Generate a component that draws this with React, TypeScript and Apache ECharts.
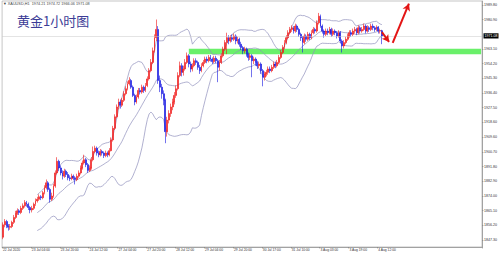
import React, { useEffect, useRef } from 'react';
import * as echarts from 'echarts';

// ---- data (XAUUSD, H1) ----
const tickLabels = [
  '22 Jul 2020', '23 Jul 04:00', '23 Jul 20:00', '24 Jul 12:00', '27 Jul 04:00',
  '27 Jul 20:00', '28 Jul 12:00', '29 Jul 04:00', '29 Jul 20:00', '30 Jul 17:00',
  '31 Jul 10:00', '3 Aug 03:00', '3 Aug 19:00', '4 Aug 12:00',
];
const barsPerTick = 16;
const totalSlots = 266;

const priceTicks = [
  1847.3, 1856.2, 1865.1, 1874.0, 1882.9, 1891.8, 1900.7, 1909.6, 1918.6,
  1927.5, 1936.4, 1945.3, 1954.2, 1963.1, 1980.9, 1989.8,
];

const firstOpen = 1849;
const closes = [
  1856.5, 1858.5, 1856, 1855, 1855.5, 1858, 1861, 1863.5, 1865, 1864,
  1866.5, 1868, 1870, 1869, 1867, 1865.5, 1866.5, 1869, 1871, 1872,
  1873.5, 1873, 1876, 1879, 1882, 1878, 1872, 1874, 1880, 1888,
  1895, 1891, 1888, 1886, 1889, 1887, 1885, 1884.5, 1886, 1885,
  1884, 1886, 1888, 1891, 1894, 1896, 1893, 1889.5, 1891, 1896,
  1901, 1903, 1900, 1899, 1901, 1900, 1898.5, 1900, 1899, 1901.5,
  1908, 1915, 1922, 1928, 1931, 1929, 1932, 1936, 1939, 1942,
  1944, 1940, 1935, 1931, 1934, 1938, 1937, 1940, 1938, 1941,
  1945, 1950, 1955, 1962, 1970, 1975, 1944, 1940, 1936, 1932,
  1913, 1920, 1924, 1928, 1931, 1935, 1939, 1947, 1953, 1949,
  1951, 1955, 1959, 1954, 1951, 1953, 1956, 1955, 1952, 1950,
  1953, 1955, 1957, 1956, 1958, 1957, 1955.5, 1957.5, 1956, 1952,
  1955, 1959, 1963, 1967, 1970, 1968, 1970, 1969, 1971, 1968,
  1969, 1966, 1964, 1962, 1963, 1960, 1958, 1959, 1956, 1957,
  1955, 1953, 1954, 1950, 1946, 1948, 1949, 1951, 1950, 1952,
  1954, 1953, 1955, 1958, 1961, 1964, 1967, 1970, 1973, 1975,
  1976, 1974, 1977, 1975, 1972, 1970, 1967, 1971, 1969, 1972,
  1970, 1973, 1975, 1974, 1979, 1983, 1977, 1974, 1972, 1974,
  1973, 1975, 1972, 1974, 1973, 1971, 1973, 1968, 1965, 1967,
  1969, 1971, 1973, 1972, 1974, 1975, 1973, 1976, 1974, 1975,
  1977, 1974, 1976, 1975, 1977, 1976, 1975, 1976.5, 1974, 1974.21,
  1971.08,
];
const highs = [
  1858, 1860, 1859.5, 1857, 1857, 1859, 1862.5, 1865, 1866.5, 1866,
  1868, 1869.5, 1871.5, 1871, 1870, 1868, 1868, 1870, 1872.5, 1873.5,
  1875, 1874.5, 1877, 1880.5, 1884, 1883, 1879, 1876, 1881.5, 1889.5,
  1897.5, 1896, 1892.5, 1889.5, 1890.5, 1890, 1888.5, 1886.5, 1887.5, 1887,
  1886, 1887.5, 1889.5, 1892.5, 1895.5, 1899, 1897, 1894, 1892.5, 1897.5,
  1904, 1904.5, 1904, 1901.5, 1902.5, 1902, 1901, 1901.5, 1901, 1903,
  1909.5, 1916.5, 1923.5, 1929.5, 1933, 1932.5, 1933.5, 1937.5, 1940.5, 1943.5,
  1946, 1945, 1941, 1936, 1935.5, 1939.5, 1939.5, 1941.5, 1941, 1942.5,
  1946.5, 1951.5, 1957, 1964, 1972, 1981, 1977, 1947, 1942, 1938,
  1933, 1922, 1926, 1930, 1933, 1937, 1941, 1949, 1955.5, 1954.5,
  1953, 1957, 1961, 1960, 1955.5, 1954.5, 1957.5, 1957.5, 1956, 1953.5,
  1954.5, 1956.5, 1958.5, 1958.5, 1959.5, 1959.5, 1958, 1959, 1959, 1957,
  1956.5, 1960.5, 1964.5, 1968.5, 1973, 1971.5, 1971.5, 1972, 1972.5, 1972,
  1970.5, 1970, 1967.5, 1965, 1964.5, 1964, 1961, 1960.5, 1960, 1958.5,
  1958, 1956, 1955.5, 1955, 1951, 1949.5, 1950.5, 1952.5, 1952.5, 1953.5,
  1955.5, 1955.5, 1956.5, 1959.5, 1962.5, 1965.5, 1968.5, 1971.5, 1974.5, 1976.5,
  1977.5, 1977, 1978.5, 1978, 1976, 1973, 1971, 1972.5, 1972, 1973.5,
  1973, 1974.5, 1976.5, 1976, 1980.5, 1985, 1984, 1978, 1975, 1975.5,
  1975.5, 1976.5, 1976, 1975.5, 1975, 1974, 1974.5, 1974, 1969, 1968.5,
  1970.5, 1972.5, 1974.5, 1974.5, 1975.5, 1976.5, 1976, 1977.5, 1977, 1976.5,
  1978.5, 1978, 1977.5, 1977, 1978.5, 1978.5, 1977, 1977.5, 1977, 1975.5,
  1974.72,
];
const lows = [
  1847.8, 1855, 1854.5, 1853, 1853.5, 1854.5, 1857, 1860, 1862.5, 1862.5,
  1863, 1865.5, 1867, 1867.5, 1865.5, 1863.5, 1864, 1865.5, 1868, 1870,
  1871, 1871.5, 1872, 1875, 1878, 1876.5, 1870, 1871, 1873, 1879,
  1887, 1889, 1886.5, 1884, 1885, 1885.5, 1883.5, 1883, 1883.5, 1883.5,
  1881, 1883, 1885, 1887, 1890, 1893, 1891.5, 1888, 1888.5, 1890,
  1895, 1900, 1898.5, 1897.5, 1898, 1898.5, 1897, 1897.5, 1897.5, 1898,
  1901, 1907, 1914, 1921, 1926.5, 1927, 1928, 1931, 1935, 1938,
  1941, 1939, 1934, 1929, 1930, 1933, 1935.5, 1936, 1936.5, 1937,
  1940, 1944, 1949, 1954, 1961, 1968, 1942, 1937, 1933, 1929,
  1906, 1910, 1918, 1922, 1926, 1929.5, 1933.5, 1938, 1946, 1946.5,
  1947, 1950, 1954, 1952, 1949, 1949.5, 1952, 1953.5, 1950.5, 1948,
  1949, 1952, 1954, 1954.5, 1955, 1955.5, 1954, 1954.5, 1954.5, 1943,
  1950, 1954, 1958, 1962, 1960, 1966, 1967, 1967.5, 1968, 1966,
  1966.5, 1964.5, 1962.5, 1960, 1960.5, 1958.5, 1956, 1956.5, 1946, 1954,
  1953, 1951, 1951.5, 1948, 1940.5, 1944, 1946.5, 1947.5, 1948.5, 1949,
  1951, 1951.5, 1952, 1954, 1957, 1960, 1963, 1966, 1969, 1972,
  1973.5, 1972.5, 1973, 1973.5, 1970.5, 1968, 1961, 1966, 1967.5, 1968,
  1968.5, 1969, 1972, 1972.5, 1973, 1978, 1976, 1972.5, 1970, 1971,
  1971.5, 1972, 1970.5, 1971, 1971.5, 1969.5, 1970, 1966.5, 1961, 1963.5,
  1966, 1968, 1970, 1970.5, 1971, 1972.5, 1971.5, 1972, 1972.5, 1973,
  1974, 1972.5, 1973, 1973.5, 1974, 1974.5, 1973.5, 1974, 1972.5, 1972.5,
  1966.06,
];
const lastPrice = 1971.08;
const header = 'XAUUSD,H1  1974.21 1974.72 1966.06 1971.08';
const title = '黄金1小时图';
const supportZone = [1960.0, 1963.3];
const supportStartBar = 103;
const arrowDown = [[210, 1973.4], [214, 1967.4]];
const arrowUp = [[216, 1966.8], [225, 1990.6]];
const bbPeriod = 20;
const bbDev = 2;

export default function App() {
  const ref = useRef<HTMLDivElement>(null);
  useEffect(() => {
    if (!ref.current) return;
    const chart = echarts.init(ref.current, undefined, { renderer: 'svg' });
    const slots = Array.from({ length: totalSlots }, (_, i) => String(i));
    const opens = closes.map((c, i) => (i === 0 ? firstOpen : closes[i - 1]));
    const candles = closes.map((c, i) => [opens[i], c, lows[i], highs[i]]);

    const mid: (number | null)[] = [];
    const up: (number | null)[] = [];
    const lo: (number | null)[] = [];
    for (let i = 0; i < closes.length; i++) {
      if (i < bbPeriod - 1) { mid.push(null); up.push(null); lo.push(null); continue; }
      const w = closes.slice(i - bbPeriod + 1, i + 1);
      const m = w.reduce((a, b) => a + b, 0) / w.length;
      const sd = Math.sqrt(w.reduce((a, b) => a + (b - m) * (b - m), 0) / w.length);
      mid.push(m); up.push(m + bbDev * sd); lo.push(m - bbDev * sd);
    }

    const showTick = (idx: number) => idx % barsPerTick === 0 && idx / barsPerTick < tickLabels.length;
    const bbLine = (name: string, d: (number | null)[]) => ({
      name, type: 'line', data: d, showSymbol: false, silent: true, z: 3,
      lineStyle: { color: '#8f8fbb', width: 0.7 },
    });
    const red = { color: '#e31515', width: 2, type: 'solid' };

    chart.setOption({
      animation: false,
      grid: { left: 2, right: 17, top: 1, bottom: 8, show: true, borderColor: '#a0a0a0', borderWidth: 0.6 },
      graphic: [
        { type: 'text', left: 3, top: 1.5, style: { text: '▼ ' + header, fontSize: 3.8, fill: '#444', fontFamily: 'Liberation Sans' } },
        { type: 'text', left: 17, top: 14, style: { text: title, fontSize: 13, fill: '#3c3c96', fontFamily: 'Noto Sans CJK SC' } },
      ],
      xAxis: {
        type: 'category', data: slots, boundaryGap: true,
        axisLine: { lineStyle: { color: '#777', width: 0.6 } },
        axisTick: { show: true, interval: (i: number) => showTick(i), length: 1.5, lineStyle: { color: '#777', width: 0.5 } },
        axisLabel: {
          interval: (i: number) => showTick(i),
          formatter: (_v: string, i: number) => tickLabels[i / barsPerTick] ?? '',
          fontSize: 3.3, color: '#333', align: 'left', margin: 1.5, fontFamily: 'Liberation Sans',
        },
        splitLine: { show: false },
      },
      yAxis: {
        type: 'value', position: 'right', min: 1843.06, max: 1992.23,
        axisLine: { show: true, lineStyle: { color: '#777', width: 0.6 } },
        axisTick: { show: true, length: 1.5, customValues: priceTicks, lineStyle: { color: '#777', width: 0.5 } },
        axisLabel: {
          customValues: priceTicks, formatter: (v: number) => v.toFixed(2),
          fontSize: 3.6, color: '#333', margin: 2, fontFamily: 'Liberation Sans',
        },
        splitLine: { show: false },
      },
      series: [
        {
          name: 'XAUUSD', type: 'candlestick', data: candles, barWidth: 1.4, z: 4,
          itemStyle: { color: '#f01818', color0: '#1414e0', borderColor: '#f01818', borderColor0: '#1414e0', borderWidth: 0.6 },
          markArea: {
            silent: true, itemStyle: { color: '#6af06a' },
            data: [[{ xAxis: supportStartBar, yAxis: supportZone[0] }, { xAxis: totalSlots - 1, yAxis: supportZone[1] }]],
          },
          markLine: {
            silent: true, symbol: ['none', 'none'], animation: false,
            data: [
              {
                yAxis: lastPrice, lineStyle: { color: '#c8c8c8', width: 0.5, type: 'solid' },
                label: { show: true, position: 'end', formatter: lastPrice.toFixed(2), backgroundColor: '#000', color: '#fff', fontSize: 3.6, padding: [0.6, 1], distance: 1.5, fontFamily: 'Liberation Sans' },
              },
              [
                { coord: arrowDown[0], symbol: 'none', lineStyle: red, label: { show: false } },
                { coord: arrowDown[1], symbol: 'arrow', symbolSize: [6, 7], lineStyle: red, label: { show: false } },
              ],
              [
                { coord: arrowUp[0], symbol: 'none', lineStyle: red, label: { show: false } },
                { coord: arrowUp[1], symbol: 'arrow', symbolSize: [6, 7], lineStyle: red, label: { show: false } },
              ],
            ],
          },
        },
        bbLine('upper', up),
        bbLine('middle', mid),
        bbLine('lower', lo),
      ],
    });
    return () => chart.dispose();
  }, []);
  return <div ref={ref} style={{ position: 'fixed', left: 0, top: 0, width: 500, height: 255, background: '#fff' }} />;
}
